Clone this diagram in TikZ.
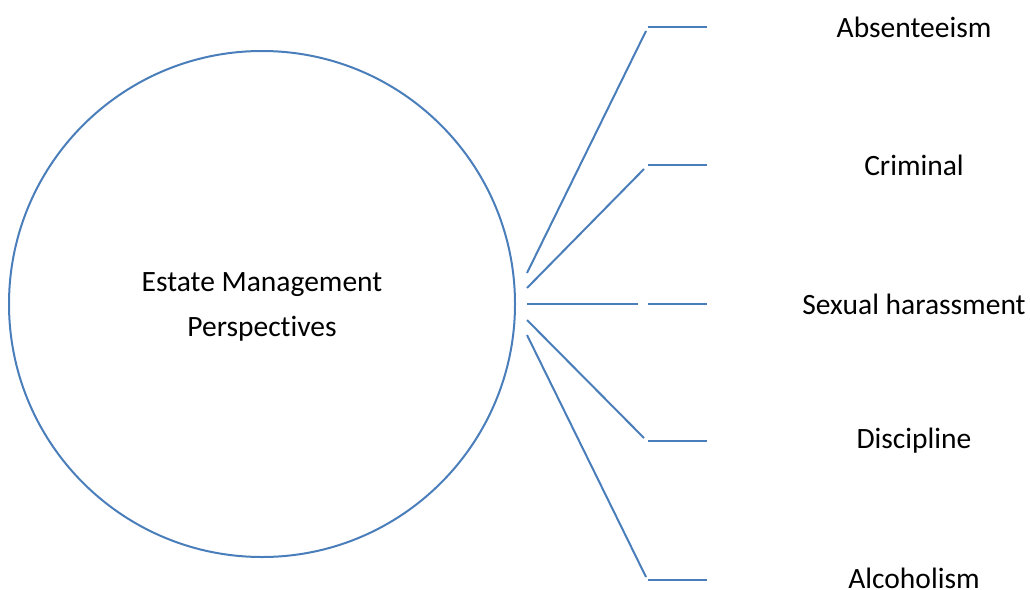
\documentclass[tikz,border=0pt]{standalone}
\usepackage{fontspec}
\setmainfont[Ligatures={NoCommon}]{Carlito}
\definecolor{lineblue}{HTML}{4A7EBB}
\tikzset{
  conn/.style={draw=lineblue, line width=2pt},
  lbl/.style={font=\fontsize{29.5}{45}\selectfont, text=black, inner sep=0pt},
}
\begin{document}
\begin{tikzpicture}[x=1pt,y=-1pt]
\useasboundingbox (0,0) rectangle (1030,589);
\node[draw=lineblue, line width=2pt, circle, minimum size=506pt, inner sep=0pt] (c) at (262,304) {};
\node[lbl, align=center] (ct) at (262,307) {Estate Management\\Perspectives};
% start points
\coordinate (s1) at (527,273);
\coordinate (s2) at (527,288);
\coordinate (s3) at (527,304);
\coordinate (s4) at (527,320);
\coordinate (s5) at (527,335);
% elbows
\coordinate (e1) at (646,31);
\coordinate (e2) at (644,169);
\coordinate (e3) at (638,304);
\coordinate (e4) at (644,438);
\coordinate (e5) at (646,577);
% short horizontal lines
\coordinate (h1a) at (648,27);  \coordinate (h1b) at (707,27);
\coordinate (h2a) at (648,165); \coordinate (h2b) at (707,165);
\coordinate (h3a) at (648,304); \coordinate (h3b) at (707,304);
\coordinate (h4a) at (648,441); \coordinate (h4b) at (707,441);
\coordinate (h5a) at (648,580); \coordinate (h5b) at (707,580);
\draw[conn] (s1) -- (e1);
\draw[conn] (s2) -- (e2);
\draw[conn] (s3) -- (e3);
\draw[conn] (s4) -- (e4);
\draw[conn] (s5) -- (e5);
\draw[conn] (h1a) -- (h1b);
\draw[conn] (h2a) -- (h2b);
\draw[conn] (h3a) -- (h3b);
\draw[conn] (h4a) -- (h4b);
\draw[conn] (h5a) -- (h5b);
\node[lbl] (l1) at (914,27) {Absenteeism};
\node[lbl] (l2) at (914,165) {Criminal};
\node[lbl] (l3) at (914,304) {Sexual harassment};
\node[lbl] (l4) at (914,441) {Discipline};
\node[lbl] (l5) at (914,578) {Alcoholism};
\end{tikzpicture}
\end{document}
